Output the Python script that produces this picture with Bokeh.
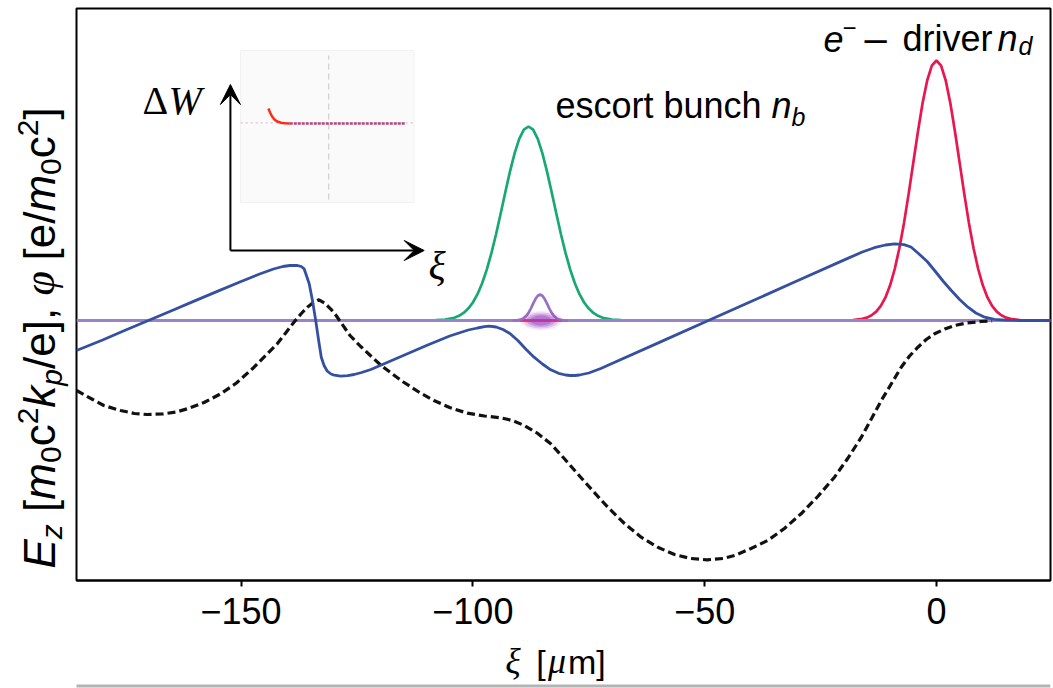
import math
from bokeh.plotting import figure
from bokeh.layouts import row, column
from bokeh.models import FixedTicker, Range1d, Arrow, VeeHead
from bokeh.core.properties import value
from bokeh.embed import file_html
from bokeh.resources import INLINE

# ---- longitudinal field E_z (blue) ----
xi_ez = [-185.5, -180, -175, -170, -165, -160, -155, -150, -146, -143, -141, -139.5,
         -138, -137, -136.4, -135.3, -134.6, -133.9, -133.3, -132.7, -132.1, -131.4,
         -130.6, -129.9, -128.5, -127, -125.6, -124, -122, -120, -115, -110, -105,
         -101, -99, -97.5, -96.5, -95, -93.5, -92, -90.3, -88.5, -86.8, -85, -83.2,
         -81.5, -80, -79, -78, -77, -75, -72.4, -70, -60, -49.2, -40, -30, -20, -16,
         -13.4, -11, -9, -7, -5.5, -4, -2, -0.4, 1.5, 3.2, 5, 6.8, 8.5, 10.4, 12.5,
         15, 18, 24.6]
ez = [-0.30, -0.197, -0.098, 0.0, 0.098, 0.196, 0.294, 0.39, 0.465, 0.515, 0.540, 0.550,
      0.552, 0.54, 0.517, 0.367, 0.20, 0.0, -0.19, -0.367, -0.45, -0.507,
      -0.535, -0.547, -0.557, -0.552, -0.54, -0.52, -0.49, -0.45, -0.35, -0.25, -0.155,
      -0.095, -0.075, -0.062, -0.057, -0.065, -0.09, -0.13, -0.20, -0.29, -0.367, -0.435, -0.493,
      -0.528, -0.545, -0.55, -0.55, -0.545, -0.525, -0.48, -0.43, -0.224, 0.0, 0.19, 0.397, 0.604, 0.685,
      0.728, 0.755, 0.767, 0.758, 0.735, 0.675, 0.59, 0.50, 0.39, 0.30, 0.21, 0.133, 0.075, 0.033, 0.012,
      0.003, 0.0, 0.0]

# ---- wake potential phi (black dashed) ----
xi_phi = [-185.5, -182, -179.6, -176, -173, -170.3, -167, -164, -161.6, -158, -154.4, -151,
          -147.2, -144.5, -142.2, -140.3, -138.6, -137, -135.7, -134.4, -133.2, -132, -130.7,
          -129.5, -128.5, -126.5, -124.2, -122, -119.9, -117.5, -115, -111.5, -108.4, -105,
          -101.2, -97.5, -94, -91.5, -88.9, -86, -83.2, -80.3, -77.4, -74, -70.9, -67.3, -63.7,
          -60, -56.5, -53, -49.5, -46, -43.5, -40, -36.4, -32.8, -29.2, -25.6, -22, -19, -16.2,
          -14, -11.9, -9.7, -7.6, -5.8, -4, -2.2, -0.4, 1.8, 3.9, 6.5, 9.7, 12]
phi = [-0.70, -0.79, -0.85, -0.90, -0.93, -0.94, -0.935, -0.915, -0.883, -0.82, -0.733, -0.625,
       -0.467, -0.34, -0.233, -0.12, -0.017, 0.07, 0.133, 0.18, 0.207, 0.175, 0.117,
       0.05, -0.017, -0.15, -0.26, -0.355, -0.445, -0.53, -0.615, -0.72, -0.80, -0.87,
       -0.927, -0.955, -0.973, -1.0, -1.05, -1.13, -1.233, -1.38, -1.533, -1.71, -1.867, -2.03, -2.167,
       -2.27, -2.34, -2.38, -2.393, -2.38, -2.35, -2.28, -2.20, -2.08, -1.933, -1.76, -1.567, -1.37, -1.167,
       -0.98, -0.80, -0.63, -0.467, -0.355, -0.267, -0.19, -0.133, -0.085, -0.05, -0.025, -0.01, -0.003]

# ---- electron driver density n_d (red) ----
xi_driver = [-25, -20, -18, -16, -15, -14, -13, -12, -11, -10, -9, -8, -7, -6, -5, -4, -3, -2, -1, 0,
             1, 2, 3, 4, 5, 6, 7, 8, 9, 10, 11, 12, 13, 14, 15, 16, 18, 20, 25]
n_driver = [0, 0.001, 0.004, 0.016, 0.029, 0.052, 0.089, 0.146, 0.231, 0.352, 0.515, 0.723, 0.976,
            1.266, 1.577, 1.888, 2.172, 2.400, 2.549, 2.600, 2.549, 2.400, 2.172, 1.888, 1.577, 1.266,
            0.976, 0.723, 0.515, 0.352, 0.231, 0.146, 0.089, 0.052, 0.029, 0.016, 0.004, 0.001, 0]

# ---- escort bunch density n_b (green) ----
xi_escort = [-112, -108, -106, -104, -103, -102, -101, -100, -99, -98, -97, -96, -95, -94, -93, -92,
             -91, -90, -89, -88, -87, -86, -85, -84, -83, -82, -81, -80, -79, -78, -77, -76, -75,
             -74, -73, -72, -70, -68, -64]
n_escort = [0, 0.003, 0.009, 0.028, 0.047, 0.076, 0.119, 0.180, 0.263, 0.372, 0.509, 0.674, 0.863,
            1.070, 1.283, 1.489, 1.672, 1.816, 1.908, 1.940, 1.908, 1.816, 1.672, 1.489, 1.283, 1.070,
            0.863, 0.674, 0.509, 0.372, 0.263, 0.180, 0.119, 0.076, 0.047, 0.028, 0.009, 0.003, 0]

# ---- small witness bunch (purple) ----
xi_witness = [-91.5, -90.5, -89.5, -89, -88.5, -88, -87.5, -87, -86.5, -86, -85.5, -85, -84.5, -84,
              -83.5, -83, -82.5, -82, -81.5, -80.5, -79.5]
n_witness = [0, 0.002, 0.011, 0.024, 0.045, 0.077, 0.119, 0.168, 0.214, 0.248, 0.26, 0.248, 0.214,
             0.168, 0.119, 0.077, 0.045, 0.024, 0.011, 0.002, 0]

xi_axis = [-185.5, 24.6]
zero_axis = [0.0, 0.0]
xi_seed = [-89.8, -80.5]

tick_values = [-150, -100, -50, 0]
tick_labels = ["\u2212150", "\u2212100", "\u221250", "0"]

# inset sketch: energy gain Delta W along xi
inset_left, inset_right, inset_bottom, inset_top = -150.1, -112.7, 1.18, 2.70
inset_mid_xi = -131.1
inset_zero = 1.977
dw_xi_head = [-144.1, -143.7, -143.3, -142.8, -142.2, -141.4, -140.5, -139.5]
dw_head = [2.12, 2.075, 2.04, 2.01, 1.99, 1.978, 1.972, 1.97]
dw_xi_tail = [-139.5, -114.5]
dw_tail = [1.97, 1.97]
arrow_origin = (-152.3, 0.70)
arrow_up_tip = 2.36
arrow_right_tip = -110.5

X0, X1 = xi_axis
Y0, Y1 = -2.60, 3.12
W, H = 1053, 688
YLAB_W = 74          # strip that carries the rotated y title
XLAB_H = 50          # strip that carries the x title
MAIN_W, MAIN_H = W - YLAB_W, H - XLAB_H
BL, BR, BT, BB = 2, 3, 8, 58
FRAME_LEFT = YLAB_W + BL           # page pixel of the frame's left edge
LIFT = 0.38                        # baseline correction, in ems, for the text glyphs

SERIF = "Liberation Serif"
SANS = "Liberation Sans"


def dx(px):
    return X0 + (px - FRAME_LEFT) * (X1 - X0) / (MAIN_W - BL - BR)


def dy(py):
    return Y1 - (py - BT) * (Y1 - Y0) / (MAIN_H - BT - BB)


p = figure(width=MAIN_W, height=MAIN_H, x_range=Range1d(X0, X1), y_range=Range1d(Y0, Y1),
           output_backend="svg", toolbar_location=None,
           min_border_left=BL, min_border_right=BR, min_border_top=BT, min_border_bottom=BB)
p.background_fill_color = "white"
p.border_fill_color = "white"
p.outline_line_color = "black"
p.outline_line_width = 2
p.grid.visible = False
p.yaxis.visible = False

ax = p.xaxis[0]
ax.ticker = FixedTicker(ticks=tick_values)
ax.major_label_overrides = {v: s for v, s in zip(tick_values, tick_labels)}
ax.major_label_text_font = SANS
ax.major_label_text_font_size = "36px"
ax.major_label_text_color = "black"
ax.major_label_standoff = 11
ax.major_tick_out = 6
ax.major_tick_in = 0
ax.major_tick_line_width = 2
ax.minor_tick_line_color = None
ax.axis_line_width = 2
ax.axis_line_color = "black"

# inset panel
p.quad(left=[inset_left], right=[inset_right], bottom=[inset_bottom], top=[inset_top],
       fill_color="#fafafa", line_color="#f1f1f1", line_width=1)
p.line([inset_mid_xi, inset_mid_xi], [inset_bottom + 0.03, inset_top - 0.05],
       line_color="#cfcfcf", line_width=1.2, line_dash="6 4")
p.line([inset_left, inset_right], [inset_zero, inset_zero],
       line_color="#d9c3cf", line_width=1.2, line_dash="2 3")
p.line(dw_xi_tail, dw_tail, line_color="#b24a7e", line_width=2.5, line_dash="3 1")
p.line(dw_xi_head, dw_head, line_color="#ff2a14", line_width=2.5)

# bunch densities and fields
p.line(xi_escort, n_escort, line_color="#19a874", line_width=2.7)
p.line(xi_driver, n_driver, line_color="#e8174f", line_width=2.7)
p.line(xi_axis, zero_axis, line_color="#9a84c8", line_width=3)
p.line(xi_seed, zero_axis, line_color="#f03060", line_width=2.5)
p.line(xi_phi, phi, line_color="#111111", line_width=3.2, line_dash="8 4")
p.line(xi_ez, ez, line_color="#3550a0", line_width=2.8)
p.line(xi_witness, n_witness, line_color="#9b6fc2", line_width=2.7)
for w_, h_, a_ in [(9.0, 0.19, 0.12), (7.6, 0.16, 0.2), (6.2, 0.13, 0.3), (4.6, 0.10, 0.4)]:
    p.ellipse(x=[-85.3], y=[0.0], width=w_, height=h_, fill_color="#9a3fbf",
              fill_alpha=a_, line_color=None)

# inset arrows
head = dict(size=20, fill_color="black", line_color="black", line_width=1)
p.add_layout(Arrow(end=VeeHead(**head), x_start=arrow_origin[0], y_start=arrow_origin[1],
                   x_end=arrow_origin[0], y_end=arrow_up_tip, line_width=2, line_color="black"))
p.add_layout(Arrow(end=VeeHead(**head), x_start=arrow_origin[0], y_start=arrow_origin[1],
                   x_end=arrow_right_tip, y_end=arrow_origin[1], line_width=2, line_color="black"))


def put_text(fig, x, y, text, size, font=SANS, style="normal", color="black", angle=0.0):
    fig.text(x=[x], y=[y], text=[text], text_font=value(font), text_font_style=value(style),
             text_font_size=value(f"{size}px"), text_color=color, text_align="left",
             text_baseline="alphabetic", angle=angle)


def ptext(text, px, py, size, font=SANS, style="normal", color="black"):
    put_text(p, dx(px), dy(py - LIFT * size), text, size, font, style, color)


ptext("\u0394", 142, 115, 40, SERIF)
ptext("W", 168, 115, 40, SERIF, "italic")
ptext("\u03be", 428, 280, 40, SERIF, "italic")

# bunch annotations
ptext("escort bunch", 555, 119, 36)
ptext("n", 771, 119, 36, style="italic")
ptext("b", 791, 126, 25, style="italic")
ptext("e", 823, 52, 36, style="italic")
ptext("\u2212", 842, 36, 24)
ptext("\u2013", 864, 53, 40)
ptext("driver", 902, 52, 36)
ptext("n", 997, 52, 36, style="italic")
ptext("d", 1018, 55, 25, style="italic")

# x title strip; y positions given as page pixels from the top
xl = figure(width=MAIN_W, height=XLAB_H, x_range=Range1d(YLAB_W, W), y_range=Range1d(0, XLAB_H),
            output_backend="svg", toolbar_location=None, x_axis_type=None, y_axis_type=None,
            min_border=0)
xl.outline_line_color = None
xl.grid.visible = False
xl.line([FRAME_LEFT - 6, W], [2.5, 2.5], line_color="#b4b4b4", line_width=3)
for txt, px, size, font, style in [("\u03be", 505, 36, SERIF, "italic"), ("[", 536, 34, SANS, "normal"),
                                   ("\u03bc", 548, 36, SERIF, "italic"), ("m]", 568, 34, SANS, "normal")]:
    put_text(xl, px, H - 674 + LIFT * size, txt, size, font, style)

# y title strip, rotated and laid out run by run from the bottom upwards
yl = figure(width=YLAB_W, height=H, x_range=Range1d(0, YLAB_W), y_range=Range1d(0, H),
            output_backend="svg", toolbar_location=None, x_axis_type=None, y_axis_type=None,
            min_border=0)
yl.outline_line_color = None
yl.grid.visible = False
CW = {'E': .667, 'z': .5, '[': .278, ']': .278, 'm': .833, '0': .556, 'c': .5,
      '2': .556, 'k': .5, 'p': .556, '/': .278, 'e': .556, ',': .278, '\u03c6': .52}
SPACE = 0.278
big, small = 44, 30
# (text, size, style, vertical shift: +1 subscript, -1 superscript, spaces before)
runs = [("E", big, "italic", 0, 0), ("z", small, "italic", 1, 0), ("[", big, "normal", 0, 1),
        ("m", big, "italic", 0, 0), ("0", small, "normal", 1, 0), ("c", big, "normal", 0, 0),
        ("2", small, "normal", -1, 0), ("k", big, "italic", 0, 0), ("p", small, "italic", 1, 0),
        ("/e],", big, "normal", 0, 0), ("\u03c6", big, "italic", 0, 1), ("[e/", big, "normal", 0, 1),
        ("m", big, "italic", 0, 0), ("0", small, "normal", 1, 0), ("c", big, "normal", 0, 0),
        ("2", small, "normal", -1, 0), ("]", big, "normal", 0, 0)]
pos = 568.0
base_x = 56
for txt, size, style, shift, spaces in runs:
    pos -= spaces * SPACE * big
    font = SERIF if txt == "\u03c6" else SANS
    bx = base_x + (6 if shift > 0 else (-17 if shift < 0 else 0))
    put_text(yl, bx - LIFT * size, H - pos, txt, size, font, style, angle=math.pi / 2)
    pos -= sum(CW.get(ch, 0.556) for ch in txt) * size

layout = row(yl, column(p, xl, spacing=0), spacing=0)
open("out.html", "w").write(file_html(layout, INLINE))
